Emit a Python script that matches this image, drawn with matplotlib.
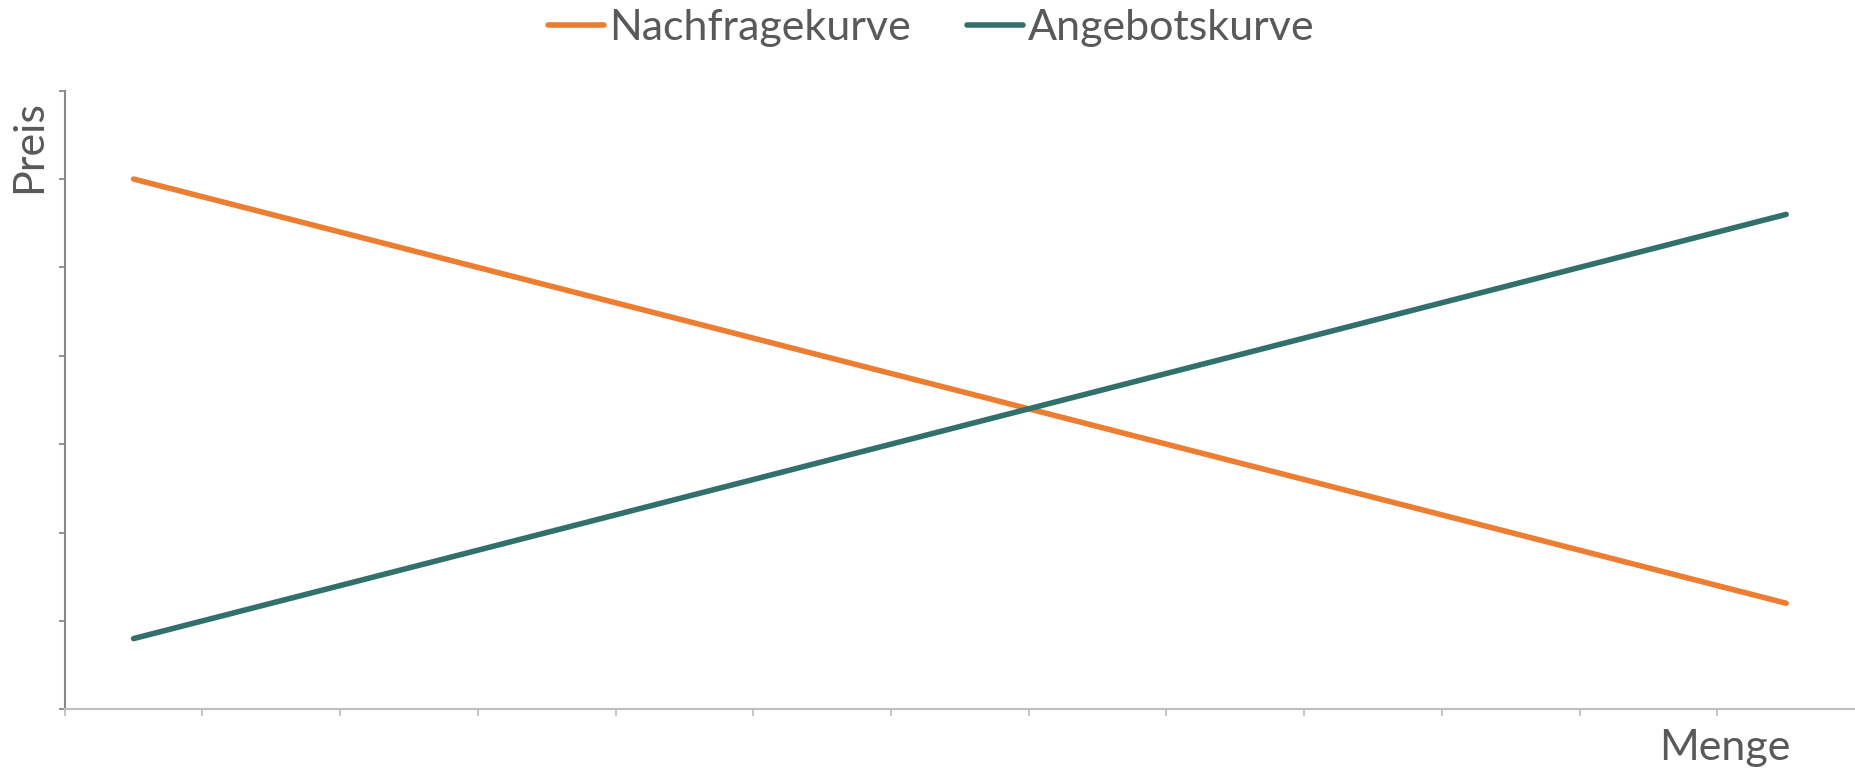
import matplotlib
matplotlib.use('Agg')
import matplotlib.pyplot as plt
import numpy as np

# values (13 categories, no labels)
menge = list(range(13))
nachfrage = [6.0, 5.6, 5.2, 4.8, 4.4, 4.0, 3.6, 3.2, 2.8, 2.4, 2.0, 1.6, 1.2]
angebot = [0.8, 1.2, 1.6, 2.0, 2.4, 2.8, 3.2, 3.6, 4.0, 4.4, 4.8, 5.2, 5.6]

orange = '#ED7D31'
teal = '#31706B'
textcol = '#595959'

plt.rcParams['font.family'] = ['Lato', 'DejaVu Sans']

fig = plt.figure(figsize=(18.55, 7.75), dpi=100)
ax = fig.add_axes([0.0349, 0.0848, 0.9651, 0.7982])

ax.plot(menge, nachfrage, color=orange, lw=4.0, solid_capstyle='round', label='Nachfragekurve')
ax.plot(menge, angebot, color=teal, lw=4.0, solid_capstyle='round', label='Angebotskurve')

ax.set_xlim(-0.5, 12.5)
ax.set_ylim(0, 7)
ax.set_xticks(np.arange(-0.5, 12, 1))
ax.set_yticks(range(8))
ax.set_xticklabels([])
ax.set_yticklabels([])
ax.tick_params(axis='x', direction='out', length=5, width=1.3, color='#BFBFBF')
ax.tick_params(axis='y', direction='out', length=4, width=1.3, color='#898989')

for s in ['top', 'right']:
    ax.spines[s].set_visible(False)
ax.spines['left'].set_color('#898989')
ax.spines['left'].set_linewidth(1.5)
ax.spines['bottom'].set_color('#BFBFBF')
ax.spines['bottom'].set_linewidth(1.5)

fig.text(0.0156, 0.811, 'Preis', rotation=90, ha='center', va='center', fontsize=31, color=textcol)
fig.text(0.965, 0.035, 'Menge', ha='right', va='center', fontsize=31, color=textcol)

leg = fig.legend(loc='upper center', bbox_to_anchor=(0.502, 1.038), ncol=2, frameon=False,
                 fontsize=31, handlelength=1.3, handletextpad=0.12, columnspacing=1.3)
for t in leg.get_texts():
    t.set_color(textcol)

fig.savefig('out.png', dpi=100)
